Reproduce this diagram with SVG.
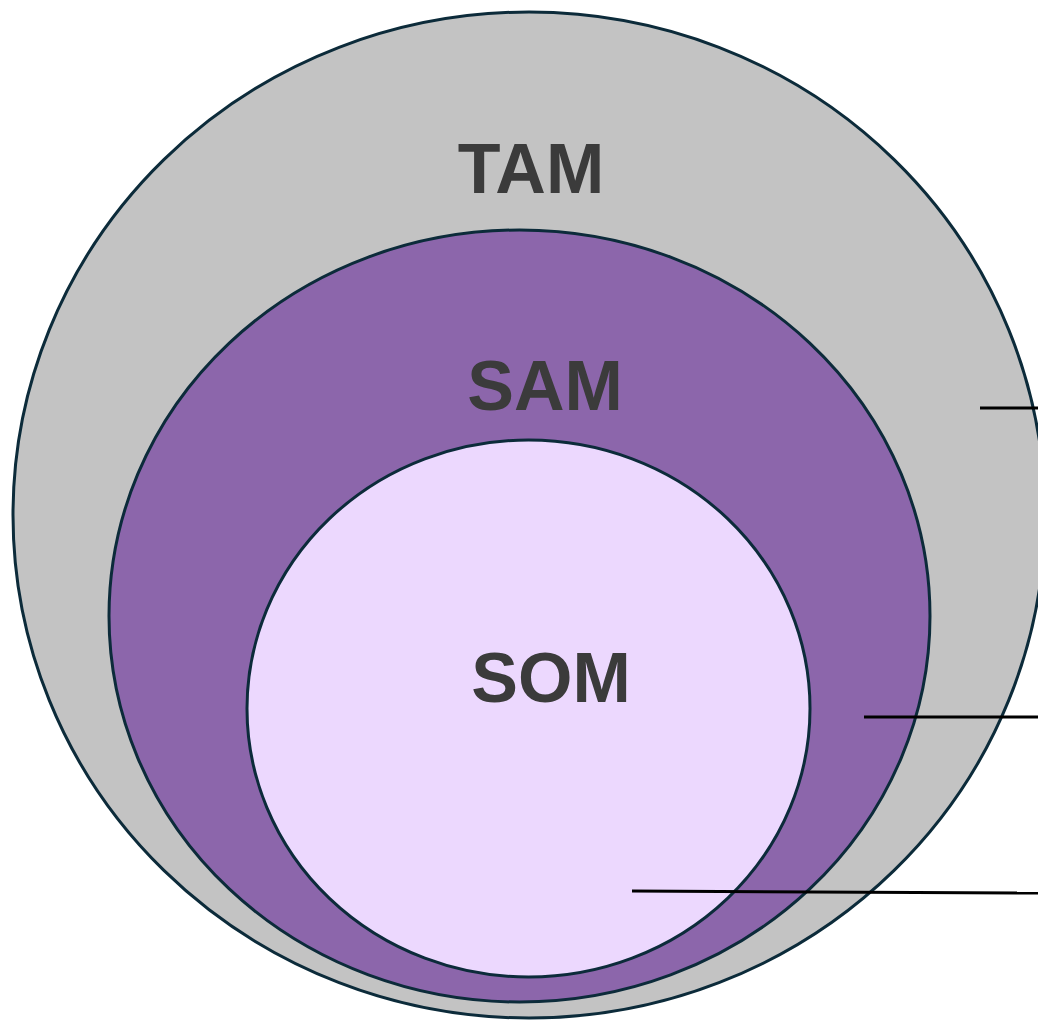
<svg xmlns="http://www.w3.org/2000/svg" width="1038" height="1020" viewBox="0 0 1038 1020">
<style>
.ring{stroke:#0c2b3a;stroke-width:3}
.lbl{font-family:"Liberation Sans",Arial,sans-serif;font-weight:bold;font-size:70px;fill:#3b3b3b;text-anchor:middle}
.conn{stroke:#000;stroke-width:3;fill:none}
</style>
<rect width="1038" height="1020" fill="#fff"/>
<g id="tam">
<ellipse class="ring" cx="529" cy="515" rx="516" ry="503" fill="#c3c3c3"/>
<text class="lbl" x="531" y="193">TAM</text>
</g>
<g id="sam">
<ellipse class="ring" cx="519.5" cy="616" rx="410.5" ry="386" fill="#8c66ab"/>
<text class="lbl" x="545" y="410">SAM</text>
</g>
<g id="som">
<ellipse class="ring" cx="528.5" cy="708.5" rx="281.5" ry="268.5" fill="#ecd8fe"/>
<text class="lbl" x="551" y="702">SOM</text>
</g>
<g id="connectors">
<line class="conn" x1="980" y1="408" x2="1038" y2="408"/>
<line class="conn" x1="864" y1="717" x2="1038" y2="717"/>
<line class="conn" x1="632" y1="891" x2="1038" y2="893"/>
</g>
</svg>
